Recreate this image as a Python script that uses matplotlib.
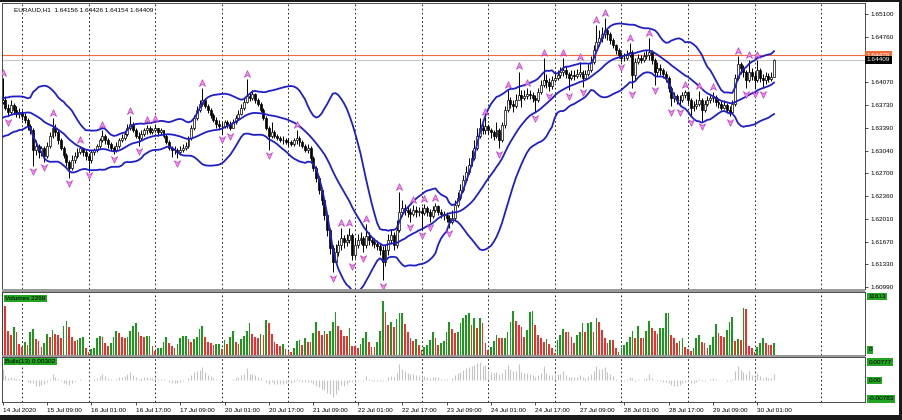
import matplotlib
matplotlib.use("Agg")
import matplotlib.pyplot as plt
import numpy as np
import pandas as pd
from matplotlib.path import Path
from matplotlib.patches import Rectangle

plt.rcParams['font.family'] = ['Liberation Sans', 'DejaVu Sans']

symbol = "EURAUD,H1"
warmup = 20  # bars before the visible window, used for the indicators

# hourly bars, 13/14 Jul (hidden warmup) then 14 Jul 17:00 .. 30 Jul 07:00
closes = [
    # warmup
    1.6343, 1.6338, 1.6347, 1.6335, 1.6341, 1.6350, 1.6344, 1.6353, 1.6338, 1.6332,
    1.6341, 1.6350, 1.6359, 1.6353, 1.6365, 1.6371, 1.6362, 1.6368, 1.6374, 1.6377,
    # visible
    1.6380, 1.6368, 1.6362, 1.6373, 1.6365, 1.6359, 1.6362, 1.6356, 1.6350, 1.6341,
    1.6335, 1.6305, 1.6312, 1.6302, 1.6308, 1.6296, 1.6312, 1.6327, 1.6338, 1.6332,
    1.6320, 1.6308, 1.6298, 1.6287, 1.6278, 1.6290, 1.6296, 1.6302, 1.6308, 1.6302,
    1.6296, 1.6290, 1.6302, 1.6305, 1.6311, 1.6320, 1.6326, 1.6320, 1.6314, 1.6308,
    1.6305, 1.6312, 1.6320, 1.6323, 1.6329, 1.6338, 1.6344, 1.6335, 1.6327, 1.6323,
    1.6330, 1.6335, 1.6338, 1.6333, 1.6335, 1.6338, 1.6332, 1.6335, 1.6327, 1.6317,
    1.6308, 1.6305, 1.6305, 1.6302, 1.6305, 1.6308, 1.6312, 1.6323, 1.6338, 1.6353,
    1.6365, 1.6374, 1.6380, 1.6371, 1.6365, 1.6358, 1.6350, 1.6344, 1.6341, 1.6341,
    1.6347, 1.6344, 1.6339, 1.6347, 1.6353, 1.6359, 1.6368, 1.6377, 1.6386, 1.6383,
    1.6389, 1.6380, 1.6374, 1.6365, 1.6353, 1.6338, 1.6326, 1.6332, 1.6327, 1.6323,
    1.6321, 1.6320, 1.6318, 1.6317, 1.6315, 1.6320, 1.6323, 1.6317, 1.6312, 1.6305,
    1.6308, 1.6293, 1.6278, 1.6263, 1.6245, 1.6230, 1.6207, 1.6185, 1.6158, 1.6136,
    1.6151, 1.6162, 1.6173, 1.6167, 1.6170, 1.6177, 1.6147, 1.6162, 1.6170, 1.6173,
    1.6162, 1.6176, 1.6170, 1.6167, 1.6164, 1.6161, 1.6155, 1.6136, 1.6155, 1.6170,
    1.6177, 1.6162, 1.6185, 1.6212, 1.6218, 1.6215, 1.6212, 1.6209, 1.6215, 1.6212,
    1.6213, 1.6210, 1.6218, 1.6212, 1.6206, 1.6215, 1.6221, 1.6212, 1.6209, 1.6207,
    1.6203, 1.6197, 1.6203, 1.6222, 1.6233, 1.6245, 1.6260, 1.6272, 1.6283, 1.6293,
    1.6308, 1.6327, 1.6338, 1.6335, 1.6341, 1.6335, 1.6332, 1.6327, 1.6335, 1.6320,
    1.6343, 1.6365, 1.6380, 1.6374, 1.6371, 1.6380, 1.6388, 1.6383, 1.6386, 1.6389,
    1.6388, 1.6383, 1.6380, 1.6392, 1.6403, 1.6410, 1.6407, 1.6401, 1.6410, 1.6413,
    1.6418, 1.6423, 1.6426, 1.6420, 1.6413, 1.6418, 1.6416, 1.6420, 1.6423, 1.6413,
    1.6420, 1.6426, 1.6438, 1.6456, 1.6468, 1.6474, 1.6480, 1.6486, 1.6480, 1.6471,
    1.6463, 1.6456, 1.6448, 1.6444, 1.6444, 1.6448, 1.6453, 1.6418, 1.6438, 1.6444,
    1.6441, 1.6447, 1.6448, 1.6453, 1.6441, 1.6423, 1.6429, 1.6426, 1.6420, 1.6413,
    1.6398, 1.6383, 1.6386, 1.6380, 1.6380, 1.6388, 1.6392, 1.6380, 1.6368, 1.6371,
    1.6374, 1.6380, 1.6365, 1.6374, 1.6380, 1.6383, 1.6385, 1.6377, 1.6374, 1.6368,
    1.6373, 1.6365, 1.6362, 1.6374, 1.6413, 1.6435, 1.6429, 1.6423, 1.6410, 1.6423,
    1.6416, 1.6410, 1.6426, 1.6413, 1.6410, 1.6416, 1.6412, 1.64156, 1.64409,
]

highs = [
    1.6347, 1.6347, 1.6352, 1.6352, 1.6346, 1.6355, 1.6355, 1.6358, 1.6358, 1.6343,
    1.6346, 1.6355, 1.6364, 1.6364, 1.6370, 1.6376, 1.6376, 1.6373, 1.6379, 1.6382,
    1.6413, 1.6386, 1.6374, 1.6380, 1.6376, 1.6371, 1.6368, 1.6365, 1.6361, 1.6353,
    1.6344, 1.6338, 1.6320, 1.6315, 1.6312, 1.6311, 1.6317, 1.6332, 1.6353, 1.6344,
    1.6335, 1.6323, 1.6311, 1.6301, 1.6290, 1.6298, 1.6302, 1.6308, 1.6312, 1.6309,
    1.6305, 1.6301, 1.6305, 1.6309, 1.6315, 1.6324, 1.6335, 1.6329, 1.6323, 1.6317,
    1.6312, 1.6318, 1.6324, 1.6329, 1.6333, 1.6344, 1.6356, 1.6347, 1.6338, 1.6332,
    1.6335, 1.6339, 1.6343, 1.6341, 1.6339, 1.6344, 1.6339, 1.6338, 1.6336, 1.6330,
    1.6320, 1.6312, 1.6311, 1.6309, 1.6311, 1.6314, 1.6318, 1.6327, 1.6343, 1.6358,
    1.6371, 1.6380, 1.6398, 1.6383, 1.6374, 1.6368, 1.6361, 1.6355, 1.6350, 1.6347,
    1.6350, 1.6350, 1.6349, 1.6352, 1.6358, 1.6365, 1.6374, 1.6383, 1.6412, 1.6392,
    1.6395, 1.6391, 1.6383, 1.6377, 1.6368, 1.6356, 1.6341, 1.6347, 1.6335, 1.6330,
    1.6327, 1.6326, 1.6324, 1.6323, 1.6321, 1.6324, 1.6335, 1.6326, 1.6320, 1.6315,
    1.6314, 1.6311, 1.6296, 1.6281, 1.6266, 1.6248, 1.6233, 1.6210, 1.6188, 1.6162,
    1.6164, 1.6170, 1.6188, 1.6177, 1.6179, 1.6188, 1.6180, 1.6173, 1.6179, 1.6182,
    1.6176, 1.6194, 1.6182, 1.6174, 1.6173, 1.6170, 1.6165, 1.6161, 1.6164, 1.6179,
    1.6186, 1.6182, 1.6200, 1.6242, 1.6230, 1.6224, 1.6221, 1.6218, 1.6222, 1.6221,
    1.6219, 1.6219, 1.6224, 1.6221, 1.6216, 1.6221, 1.6225, 1.6222, 1.6216, 1.6213,
    1.6212, 1.6207, 1.6215, 1.6230, 1.6242, 1.6254, 1.6267, 1.6281, 1.6293, 1.6305,
    1.6320, 1.6338, 1.6353, 1.6344, 1.6355, 1.6344, 1.6339, 1.6336, 1.6347, 1.6338,
    1.6347, 1.6371, 1.6395, 1.6385, 1.6380, 1.6389, 1.6423, 1.6395, 1.6395, 1.6398,
    1.6395, 1.6392, 1.6388, 1.6398, 1.6410, 1.6444, 1.6420, 1.6413, 1.6416, 1.6421,
    1.6426, 1.6430, 1.6444, 1.6432, 1.6423, 1.6426, 1.6426, 1.6427, 1.6438, 1.6426,
    1.6426, 1.6435, 1.6447, 1.6463, 1.6493, 1.6486, 1.6490, 1.6504, 1.6489, 1.6483,
    1.6474, 1.6465, 1.6459, 1.6453, 1.6451, 1.6456, 1.6466, 1.6456, 1.6444, 1.6450,
    1.6448, 1.6453, 1.6456, 1.6474, 1.6456, 1.6444, 1.6438, 1.6435, 1.6429, 1.6424,
    1.6416, 1.6401, 1.6392, 1.6389, 1.6388, 1.6392, 1.6395, 1.6394, 1.6383, 1.6379,
    1.6382, 1.6394, 1.6383, 1.6380, 1.6386, 1.6389, 1.6392, 1.6388, 1.6382, 1.6379,
    1.6380, 1.6376, 1.6371, 1.6380, 1.6420, 1.6447, 1.6438, 1.6433, 1.6426, 1.6441,
    1.6429, 1.6423, 1.6441, 1.6429, 1.6420, 1.6423, 1.6421, 1.6423, 1.64426,
]

lows = [
    1.6338, 1.6333, 1.6333, 1.6330, 1.6330, 1.6336, 1.6339, 1.6339, 1.6333, 1.6327,
    1.6327, 1.6336, 1.6346, 1.6349, 1.6349, 1.6361, 1.6358, 1.6358, 1.6364, 1.6370,
    1.6374, 1.6365, 1.6356, 1.6359, 1.6361, 1.6355, 1.6353, 1.6350, 1.6346, 1.6336,
    1.6329, 1.6281, 1.6298, 1.6293, 1.6296, 1.6287, 1.6293, 1.6309, 1.6324, 1.6326,
    1.6315, 1.6305, 1.6293, 1.6281, 1.6263, 1.6275, 1.6286, 1.6293, 1.6299, 1.6296,
    1.6290, 1.6275, 1.6286, 1.6298, 1.6302, 1.6308, 1.6317, 1.6315, 1.6309, 1.6305,
    1.6299, 1.6302, 1.6309, 1.6317, 1.6320, 1.6326, 1.6335, 1.6332, 1.6323, 1.6312,
    1.6320, 1.6327, 1.6330, 1.6329, 1.6330, 1.6332, 1.6327, 1.6329, 1.6324, 1.6314,
    1.6305, 1.6295, 1.6299, 1.6293, 1.6298, 1.6302, 1.6305, 1.6309, 1.6320, 1.6335,
    1.6350, 1.6362, 1.6371, 1.6368, 1.6361, 1.6353, 1.6347, 1.6339, 1.6336, 1.6330,
    1.6338, 1.6339, 1.6335, 1.6338, 1.6344, 1.6352, 1.6358, 1.6365, 1.6376, 1.6379,
    1.6380, 1.6376, 1.6371, 1.6362, 1.6350, 1.6335, 1.6305, 1.6323, 1.6323, 1.6320,
    1.6317, 1.6315, 1.6314, 1.6312, 1.6311, 1.6311, 1.6315, 1.6312, 1.6308, 1.6302,
    1.6301, 1.6289, 1.6273, 1.6257, 1.6239, 1.6222, 1.6200, 1.6176, 1.6148, 1.6121,
    1.6133, 1.6146, 1.6155, 1.6158, 1.6161, 1.6165, 1.6139, 1.6143, 1.6158, 1.6164,
    1.6151, 1.6158, 1.6162, 1.6161, 1.6158, 1.6155, 1.6147, 1.6109, 1.6130, 1.6147,
    1.6164, 1.6155, 1.6158, 1.6182, 1.6206, 1.6207, 1.6204, 1.6197, 1.6206, 1.6204,
    1.6206, 1.6185, 1.6207, 1.6206, 1.6197, 1.6203, 1.6212, 1.6207, 1.6203, 1.6200,
    1.6197, 1.6188, 1.6194, 1.6200, 1.6219, 1.6230, 1.6242, 1.6257, 1.6269, 1.6281,
    1.6290, 1.6305, 1.6324, 1.6329, 1.6330, 1.6329, 1.6324, 1.6320, 1.6323, 1.6308,
    1.6317, 1.6339, 1.6362, 1.6368, 1.6362, 1.6368, 1.6380, 1.6370, 1.6380, 1.6382,
    1.6382, 1.6377, 1.6362, 1.6377, 1.6389, 1.6400, 1.6398, 1.6394, 1.6397, 1.6407,
    1.6410, 1.6413, 1.6416, 1.6413, 1.6395, 1.6410, 1.6410, 1.6413, 1.6415, 1.6400,
    1.6410, 1.6416, 1.6423, 1.6435, 1.6453, 1.6462, 1.6468, 1.6474, 1.6471, 1.6465,
    1.6459, 1.6450, 1.6444, 1.6438, 1.6439, 1.6441, 1.6445, 1.6398, 1.6410, 1.6435,
    1.6436, 1.6438, 1.6442, 1.6441, 1.6435, 1.6403, 1.6416, 1.6418, 1.6413, 1.6407,
    1.6392, 1.6371, 1.6377, 1.6374, 1.6371, 1.6377, 1.6383, 1.6374, 1.6356, 1.6364,
    1.6367, 1.6371, 1.6349, 1.6362, 1.6371, 1.6376, 1.6377, 1.6371, 1.6368, 1.6365,
    1.6367, 1.6361, 1.6356, 1.6359, 1.6371, 1.6410, 1.6420, 1.6415, 1.6398, 1.6407,
    1.6410, 1.6398, 1.6407, 1.6407, 1.6398, 1.6404, 1.6407, 1.6409, 1.64154,
]

# tick volumes of the visible bars
volumes = [
    11613, 9163, 4488, 3740, 5236, 4301, 2057, 1496, 2431, 1870,
    4301, 4862, 2992, 2618, 1496, 2244, 3927, 3366, 4675, 3927,
    3740, 3179, 5423, 6358, 5236, 3366, 2618, 2805, 3179, 3366,
    1309, 561, 1122, 1309, 3179, 3553, 3366, 2244, 1683, 2244,
    3366, 4488, 4114, 3366, 3179, 3366, 4488, 5423, 5984, 4301,
    3553, 3366, 3553, 3610, 1683, 748, 1309, 1350, 2431, 3366,
    2244, 1683, 1309, 2057, 3179, 3553, 3600, 2992, 2431, 2992,
    3366, 4862, 5423, 3366, 2431, 2244, 1870, 2057, 2100, 1122,
    2805, 2057, 3366, 4488, 2431, 2057, 2992, 3553, 4488, 5984,
    3927, 3366, 3179, 3927, 3740, 6545, 5984, 3927, 2431, 2057,
    1683, 2057, 1122, 748, 561, 1309, 2618,
    2805, 1870, 3179, 2431, 2400, 4114, 6171, 4488, 3740, 4488,
    3927, 4488, 6171, 8041, 5423, 4675, 3553, 3500, 5049, 1683,
    1650, 1309, 2057, 3179, 4301, 2431, 1496, 1460, 2431, 4488,
    10098, 8041, 5610, 6171, 5236, 6732, 7854, 7900, 5797, 4301,
    3179, 2618, 2992, 1870, 935, 1496, 1870, 2805, 4301, 3179,
    1870, 2244, 2618, 4301, 6171, 4862, 4114, 4301, 5984, 6919,
    7480, 7854, 5610, 6919, 5049, 6919, 5984, 2244, 935, 1496,
    2618, 3740, 3179, 3150, 3200, 4301, 6171, 8228, 6358, 5610,
    5236, 3366, 4675, 8041, 8228, 5610, 3740, 3179, 2431, 2992,
    2057, 1309, 374, 2805, 3740, 4862, 4301, 4250, 3366, 2244,
    3740, 4301, 5984, 4301, 5984, 6171, 4301, 6919, 6171, 4675,
    3179, 2244, 2805, 2760, 1309, 561, 1309, 1870, 2431, 3366,
    4488, 3179, 5423, 3179, 3150, 4488, 6358, 5049, 4488, 3927,
    5049, 5100, 7854, 7900, 3740, 3179, 2244, 2618, 3179, 1496,
    1122, 748, 1309, 3179, 3740, 2431, 2244, 1309, 1870, 3366,
    5797, 4114, 3553, 3366, 4675, 6171, 7106, 2618, 2992, 2805,
    8789, 8602, 1683, 1309, 561, 1496, 2244, 3179, 2244, 1870,
    1840, 2269,
]

time_labels = [
    "14 Jul 2020", "15 Jul 09:00", "16 Jul 01:00", "16 Jul 17:00", "17 Jul 09:00",
    "20 Jul 01:00", "20 Jul 17:00", "21 Jul 09:00", "22 Jul 01:00", "22 Jul 17:00",
    "23 Jul 09:00", "24 Jul 01:00", "24 Jul 17:00", "27 Jul 09:00", "28 Jul 01:00",
    "28 Jul 17:00", "29 Jul 09:00", "30 Jul 01:00",
]
price_ticks = [1.65100, 1.64760, 1.64070, 1.63730, 1.63390, 1.63040,
               1.62700, 1.62360, 1.62010, 1.61670, 1.61330, 1.60990]
ask_price = 1.64479
volume_scale = ["11613", "0"]
bulls_scale = [0.00777, 0.0, -0.00783]
bulls_scale_text = ["0.00777", "0.00", "-0.00783"]
bulls_last_text = "0.00302"

assert len(closes) == len(highs) == len(lows) == warmup + len(volumes)

c = np.array(closes)
h = np.array(highs)
l = np.array(lows)
o = np.r_[c[0], c[:-1]]
n = len(c)
x = np.arange(n) - warmup

s = pd.Series(c)
mid = s.rolling(20).mean()
sd = s.rolling(20).std(ddof=0)
upper = mid + 2 * sd
lower = mid - 2 * sd
ema13 = s.ewm(span=13, adjust=False).mean().values
bulls = h - ema13

up_fr = [i for i in range(warmup, n - 2)
         if h[i] > max(h[i - 2], h[i - 1], h[i + 1], h[i + 2])]
dn_fr = [i for i in range(warmup, n - 2)
         if l[i] < min(l[i - 2], l[i - 1], l[i + 1], l[i + 2])]

vis = slice(warmup, n)
xv = x[vis]
ov, hv, lv, cv = o[vis], h[vis], l[vis], c[vis]
vol = np.array(volumes)
vol_up = np.diff(vol, prepend=0) > 0

# figure laid out in pixels like the terminal window
W, H = 903, 420
fig = plt.figure(figsize=(W / 100, H / 100), dpi=100, facecolor='white')


def box(x0, y0, x1, y1):
    return [x0 / W, 1 - y1 / H, (x1 - x0) / W, (y1 - y0) / H]


ax = fig.add_axes(box(2, 3, 865, 289))
axv = fig.add_axes(box(2, 292, 865, 355))
axb = fig.add_axes(box(2, 357, 865, 402))

fs = 4.6
xlim = (-0.2, 310.8)
for a in (ax, axv, axb):
    a.set_xlim(*xlim)
    for sp in a.spines.values():
        sp.set_linewidth(0.6)
        sp.set_color('#303030')
    for g in range(7, 311, 24):
        a.axvline(g, color='black', lw=0.6, ls=(0, (2, 3)), zorder=0)

# candles
ax.vlines(xv, lv, hv, color='black', lw=0.7, zorder=2)
bull = cv >= ov
ax.bar(xv[bull], cv[bull] - ov[bull], bottom=ov[bull], width=0.7,
       color='white', edgecolor='black', lw=0.5, zorder=3)
ax.bar(xv[~bull], ov[~bull] - cv[~bull], bottom=cv[~bull], width=0.7,
       color='black', edgecolor='black', lw=0.5, zorder=3)

# bollinger bands
for band in (upper, mid, lower):
    ax.plot(x, band, color='#1f1fc8', lw=1.3, zorder=4)

# fractals
up_marker = Path([(0, 1), (0.8, -0.75), (0, -0.2), (-0.8, -0.75), (0, 1)],
                 [Path.MOVETO, Path.LINETO, Path.LINETO, Path.LINETO, Path.CLOSEPOLY])
dn_marker = Path([(0, -1), (0.8, 0.75), (0, 0.2), (-0.8, 0.75), (0, -1)],
                 [Path.MOVETO, Path.LINETO, Path.LINETO, Path.LINETO, Path.CLOSEPOLY])
ax.scatter(x[up_fr], h[up_fr] + 0.0008, marker=up_marker, s=30,
           c='#f48cf4', edgecolors='#c23cc2', linewidths=0.5, zorder=5)
ax.scatter(x[dn_fr], l[dn_fr] - 0.0008, marker=dn_marker, s=30,
           c='#f48cf4', edgecolors='#c23cc2', linewidths=0.5, zorder=5)

# ask / bid lines
ax.axhline(ask_price, color='#f06a3c', lw=0.8, zorder=1)
ax.axhline(c[-1], color='#c8c8c8', lw=0.8, zorder=1)

ax.set_ylim(1.60960, 1.65266)
ax.yaxis.tick_right()
ax.set_yticks(price_ticks)
ax.set_yticklabels([f"{p:.5f}" for p in price_ticks])
ax.tick_params(axis='y', labelsize=fs, length=2.5, width=0.5, pad=1.5)
ax.set_xticks([])
ax.text(1.002, ask_price, f"{ask_price:.5f}", transform=ax.get_yaxis_transform(),
        fontsize=fs, color='white', va='center', ha='left',
        bbox=dict(boxstyle='square,pad=0.25', fc='#f06a3c', ec='none'))
ax.text(1.002, c[-1], f"{c[-1]:.5f}", transform=ax.get_yaxis_transform(),
        fontsize=fs, color='white', va='center', ha='left',
        bbox=dict(boxstyle='square,pad=0.25', fc='black', ec='none'))
ax.text(0.014, 0.975, f"{symbol}  {o[-1]:.5f} {h[-1]:.5f} {l[-1]:.5f} {c[-1]:.5f}",
        transform=ax.transAxes, fontsize=fs, va='center', ha='left')

# volumes
axv.bar(xv, vol, width=0.62, color=np.where(vol_up, '#1a9a1a', '#f52c2c'),
        edgecolor='none', zorder=2)
axv.set_ylim(0, 11800)
axv.set_xticks([])
axv.set_yticks([])
green_box = dict(boxstyle='square,pad=0.2', fc='#22a322', ec='none')
axv.text(0.004, 0.9, f"Volumes {volumes[-1]}", transform=axv.transAxes,
         fontsize=fs, va='center', ha='left', bbox=green_box)
axv.text(1.004, 0.93, volume_scale[0], transform=axv.transAxes,
         fontsize=fs, va='center', ha='left', bbox=green_box)
axv.text(1.004, 0.08, volume_scale[1], transform=axv.transAxes,
         fontsize=fs, va='center', ha='left', bbox=green_box)

# bulls power
axb.vlines(xv, 0, bulls[vis], color='#c4c4c4', lw=0.8, zorder=2)
axb.set_ylim(-0.0091, 0.0099)
axb.set_yticks([])
for val, txt in zip(bulls_scale, bulls_scale_text):
    axb.text(1.004, val, txt, transform=axb.get_yaxis_transform(),
             fontsize=fs, va='center', ha='left', bbox=green_box)
axb.text(0.004, 0.9, f"Bulls(13) {bulls_last_text}", transform=axb.transAxes,
         fontsize=fs, va='center', ha='left', bbox=green_box)

axb.set_xticks(range(0, n - warmup, 16))
axb.set_xticklabels(time_labels, ha='left')
axb.tick_params(axis='x', labelsize=fs, length=2, width=0.5, pad=2)

# separators and window frame
for y0, y1 in ((289, 292), (355, 357)):
    fig.patches.append(Rectangle((2 / W, 1 - y1 / H), 863 / W, (y1 - y0) / H,
                                 transform=fig.transFigure, fc='#9a9a9a', ec='none'))
frame = (((0, 0), 1, 5 / H),             # bottom strip
         ((0, 1 - 2 / H), 1, 2 / H),     # top strip
         ((1 - 4 / W, 0), 4 / W, 1))     # right strip
for rect in frame:
    fig.patches.append(Rectangle(rect[0], rect[1], rect[2], transform=fig.transFigure,
                                 fc='#1a1a1a', ec='none'))

fig.savefig("out.png", dpi=100, facecolor='white')
